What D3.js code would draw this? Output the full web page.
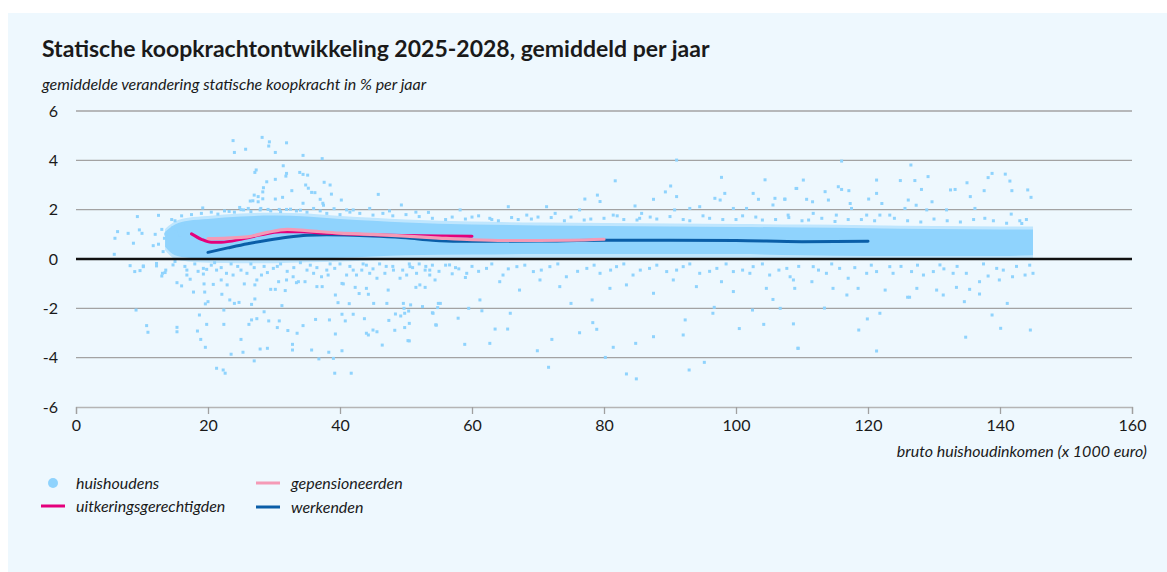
<!DOCTYPE html>
<html>
<head>
<meta charset="utf-8">
<script src="https://cdn.jsdelivr.net/npm/d3@7"></script>
<style>
  body { margin: 0; background: #ffffff; }
  svg { display: block; }
  text { font-family: Lato, "Open Sans", sans-serif; fill: #1a1a1a; }
</style>
</head>
<body>
<div id="chart"></div>
<script>
// x: bruto huishoudinkomen (x 1000 euro), y: % per jaar
const xTicks = [0, 20, 40, 60, 80, 100, 120, 140, 160];
const yTicks = [-6, -4, -2, 0, 2, 4, 6];

// dense cloud of households (envelope of the band)
const bandX = [13.5, 15, 17, 20, 25, 30, 35, 40, 45, 50, 60, 70, 80, 90, 100, 110, 120, 130, 140, 145];
const bandLo = [0.5, 0.15, 0.05, 0.0, -0.02, -0.02, 0.02, 0.05, 0.1, 0.15, 0.18, 0.2, 0.2, 0.2, 0.2, 0.15, 0.12, 0.12, 0.12, 0.15];
const bandHi = [1.1, 1.4, 1.55, 1.62, 1.72, 1.76, 1.72, 1.62, 1.55, 1.48, 1.4, 1.36, 1.34, 1.32, 1.3, 1.28, 1.25, 1.22, 1.2, 1.2];

// individual households outside the band
const householdPoints = [
  [23.8,4.8],[24.0,4.32],[25.7,4.45],[28.2,4.93],[29.3,4.75],[29.2,4.58],[30.2,4.32],[31.9,4.71],[34.4,4.2],[37.3,4.07],
  [31.4,3.78],[27.3,3.61],[27.1,3.51],[33.9,3.51],[34.4,3.43],[35.1,3.4],[31.8,3.36],[28.9,3.13],[30.2,3.23],[37.6,3.11],
  [38.5,3.0],[34.8,3.0],[35.2,2.87],[28.4,2.89],[28.3,2.72],[35.7,2.7],[36.2,2.69],[38.7,2.63],[27.0,2.59],[27.6,2.53],
  [26.4,2.35],[26.8,2.36],[27.6,2.32],[28.3,2.44],[30.2,2.43],[31.3,2.5],[37.0,2.42],[37.4,2.26],[37.5,2.18],[40.2,2.39],
  [34.4,2.26],[19.2,2.07],[12.5,1.77],[23.2,1.93],[24.8,2.09],[25.4,1.99],[26.1,2.05],[27.9,1.99],[29.1,2.01],[30.8,2.01],
  [31.9,2.01],[33.4,1.95],[36.0,2.05],[39.1,2.04],[41.0,1.99],[42.0,1.99],[45.8,2.62],[49.3,2.19],[32.7,2.77],[31.9,3.47],
  [44.5,2.05],[47.5,1.95],[51.5,1.9],[53.4,1.89],
  [15.0,1.55],[16.2,1.41],[14.7,1.28],[15.2,1.09],[13.6,1.01],[13.4,0.84],[15.8,0.96],[6.3,1.11],[5.9,0.84],[7.9,1.04],
  [8.7,0.64],[9.6,1.18],[10.0,1.04],[11.7,0.54],[5.8,0.19],[9.3,1.72],[12.5,0.6],[13.0,1.2],[12.0,1.0],[13.2,0.3],
  [8.2,-0.27],[8.9,-0.51],[9.7,-0.47],[10.2,-0.31],[12.2,-0.18],[13.1,-0.58],[13.6,-0.45],[9.1,-2.07],[10.7,-2.7],[10.9,-2.97],
  [10.2,-0.28],[12.2,-0.28],[13.5,-0.55],[13.0,-0.69],
  [15.3,-0.96],[16.0,-1.09],[17.8,-1.34],[16.8,-0.45],[16.8,-0.65],[17.3,-0.82],[19.4,-1.01],[19.5,-1.34],[19.3,-0.61],[19.8,-0.42],
  [19.6,-1.82],[20.0,-1.73],[18.7,-2.27],[15.3,-2.77],[15.3,-2.95],[18.4,-2.92],[18.9,-3.26],[19.6,-3.58],[19.8,-2.65],[21.3,-4.43],
  [22.3,-4.5],[22.6,-4.63],[23.5,-3.86],[25.0,-3.26],[25.3,-3.78],[26.2,-2.65],[26.6,-2.47],[27.4,-2.42],[22.4,-2.65],[22.4,-2.07],
  [27.0,-4.13],[27.9,-3.65],[29.0,-3.62],[28.5,-2.14],[29.2,-2.51],[30.8,-2.51],[30.5,-2.78],[32.1,-2.9],[33.5,-3.01],[34.4,-2.7],
  [32.8,-3.46],[32.8,-3.69],[35.7,-3.69],[36.3,-2.45],[38.4,-2.47],[36.8,-4.05],[39.0,-4.03],[38.3,-3.78],[39.3,-3.04],[39.2,-4.63],
  [41.7,-4.63],[40.3,-3.72],[40.3,-2.24],[42.0,-2.24],[40.8,-2.51],[43.7,-2.42],[44.0,-3.01],[44.3,-3.08],[45.0,-2.88],[45.6,-2.95],
  [46.4,-3.49],[47.4,-2.49],[48.4,-2.23],[49.2,-2.31],[48.3,-2.89],[49.8,-2.78],[50.5,-3.32],[50.5,-2.61],[50.4,-2.11],[49.7,-2.0],
  [54.0,-2.18],[54.6,-2.68],[54.8,-1.97],
  [22.1,-1.43],[23.3,-1.66],[24.0,-1.8],[24.7,-1.76],[27.1,-1.62],[26.6,-1.84],[31.2,-1.89],[39.3,-1.46],[39.7,-1.77],[41.4,-1.81],
  [42.9,-1.4],[44.3,-1.43],[45.1,-1.8],[47.1,-1.8],[47.3,-1.26],[49.6,-1.8],[50.7,-1.86],[52.5,-1.93],[52.9,-1.15],[51.5,-1.15],
  [54.9,-1.8],[20.8,-1.03],[22.0,-0.85],[22.9,-1.05],[25.5,-1.01],[27.1,-1.05],[29.5,-1.23],[30.2,-1.23],[31.7,-1.28],[33.4,-0.96],
  [36.5,-1.12],[37.3,-1.12],[40.5,-1.01],[42.3,-1.15],[44.0,-1.19],
  [14.7,-0.24],[19.3,-0.38],[21.3,-0.45],[22.8,-0.58],[23.8,-0.65],[25.9,-0.58],[27.4,-0.85],[28.1,-0.65],[29.9,-0.38],[30.7,-0.92],
  [31.9,-0.85],[32.9,-0.72],[33.7,-0.92],[34.7,-0.92],[36.0,-0.58],[37.2,-0.72],[38.2,-0.65],[39.2,-0.38],[40.3,-0.99],[41.0,-0.65],
  [42.5,-0.65],[43.3,-0.45],[44.5,-0.58],[45.6,-0.78],[46.8,-0.58],[48.1,-0.45],[49.1,-0.78],[50.1,-0.65],[51.6,-0.58],[52.9,-0.45],
  [53.6,-0.65],[54.4,-0.85],[18,-0.2],[20.5,-0.25],[24.5,-0.3],[26.5,-0.2],[28.5,-0.3],[31,-0.2],[33,-0.35],[35.5,-0.25],
  [38.5,-0.2],[41.5,-0.3],[44,-0.25],[47,-0.3],[50.5,-0.2],[53,-0.3],[56,-0.25],[58,-0.4],[60,-0.3],[57,-0.6],[59,-0.75],
  [91.0,4.01],[81.7,3.17],[97.8,3.31],[104.4,3.21],[90.1,2.96],[89.3,2.72],[91.0,2.53],[79.0,2.59],[77.1,2.43],[79.4,2.33],
  [87.5,2.42],[84.7,2.15],[85.7,1.85],[96.8,2.46],[98.3,2.66],[97.6,2.39],[102.6,2.66],[103.4,2.42],[105.9,2.46],[107.4,2.42],
  [109.2,2.86],[65.5,2.12],[58.2,1.99],[72.6,1.85],[76.3,1.99],[90.7,1.99],[93.0,2.05],[94.5,2.12],[99.6,2.05],[105.6,2.19],
  [101.6,2.05],[71.3,2.12],[85.4,1.65],[81.4,1.78],[68.3,1.78],[62.7,1.65],
  [71.6,-4.39],[69.9,-3.72],[72.1,-3.26],[80.2,-3.99],[81.4,-3.58],[83.4,-4.66],[84.9,-4.86],[84.8,-3.42],[87.5,-3.15],[92.0,-3.08],
  [92.3,-2.47],[92.9,-4.5],[95.2,-4.19],[100.5,-2.82],[104.2,-2.65],[109.4,-3.62],[76.3,-2.99],[78.3,-2.58],[78.9,-2.85],[78.2,-1.66],
  [75.0,-1.8],[49.8,-2.2],[50.3,-3.31],[54.1,-2.2],[54.5,-2.67],[57.9,-2.4],[58.9,-3.46],[62.7,-3.42],[63.5,-2.84],[65.4,-2.84],
  [65.8,-2.2],[61.5,-2.1],[55.2,-1.8],[59.5,-2.0],[96.5,-2.2],[96.7,-1.96],[102.5,-2.07],[106.7,-2.0],[97.8,-0.92],[104.6,-1.19],
  [105.6,-1.64],[99.6,-1.32],[87.5,-1.39],[83.4,-1.05],[80.9,-1.19],[73.3,-1.12],[70.3,-0.85],[67.2,-1.26],[64.2,-0.92],[61.2,-1.66],
  [52.1,-1.05],[94.0,-1.12],[90.5,-0.85],[102.1,-0.58],[108.7,-0.85],
  [50.6,-0.31],[53.6,-0.45],[56.6,-0.24],[59.2,-0.58],[62.2,-0.38],[64.7,-0.65],[66.8,-0.31],[69.3,-0.51],[71.8,-0.31],[74.3,-0.72],
  [77.4,-0.38],[79.4,-0.58],[81.9,-0.31],[84.4,-0.65],[86.9,-0.38],[89.5,-0.51],[92.0,-0.31],[94.5,-0.58],[97.1,-0.38],[99.6,-0.51],
  [102.6,-0.31],[105.1,-0.65],[107.7,-0.38],
  [116.0,3.97],[126.5,3.81],[138.8,3.47],[138.2,3.3],[140.8,3.44],[141.5,3.16],[110.2,3.2],[121.3,3.2],[124.9,3.18],[127.1,3.18],
  [129.1,3.34],[135.0,3.09],[132.5,2.8],[133.2,2.82],[109.1,2.86],[113.5,2.73],[115.5,2.93],[116.0,2.82],[117.1,2.77],[120.1,2.43],
  [121.3,2.66],[128.1,2.82],[129.7,2.32],[135.5,2.53],[137.6,2.77],[141.8,2.77],[144.2,2.8],[144.7,2.5],[107.4,2.43],[110.7,2.42],
  [111.6,2.32],[114.0,2.39],[117.3,2.25],[122.1,2.25],[126.1,2.39],[127.3,2.18],[107.9,1.78],[111.7,1.85],[115.2,1.78],[117.5,2.05],
  [119.8,1.78],[121.8,1.78],[123.3,1.78],[125.6,2.05],[128.9,1.99],[131.9,1.99],[136.2,2.05],[137.7,1.65],[141.7,1.82],[143.3,1.44],
  [108.7,-2.63],[109.4,-3.62],[113.4,-1.99],[118.6,-2.88],[119.9,-2.43],[121.3,-3.73],[121.8,-2.2],[134.8,-3.17],[134.6,-1.73],[126.0,-1.55],
  [126.3,-1.55],[131.4,-1.46],[136.9,-1.42],[138.8,-2.27],[140.1,-2.81],[141.1,-1.8],[144.6,-2.88],[108.9,-1.19],[114.7,-1.19],[116.8,-1.46],
  [118.5,-1.19],[122.6,-1.26],[127.4,-1.19],[130.4,-1.26],[133.4,-1.15],[135.4,-1.23],[108.2,-0.72],[111.5,-0.92],[113.7,-0.58],[117.0,-0.78],
  [119.8,-0.58],[121.3,-0.51],[123.8,-0.58],[126.6,-0.51],[128.4,-0.65],[129.9,-0.51],[132.9,-0.58],[134.9,-0.58],[136.9,-0.92],[138.2,-0.69],
  [139.9,-0.85],[141.9,-0.72],[143.8,-0.65],[145.0,-0.58],[111.7,-0.31],[115.7,-0.38],[123.3,-0.31],[130.9,-0.24],[139.5,-0.38],
  [56,1.6],[60,1.7],[64,1.55],[67,1.6],[70,1.7],[74,1.55],[78,1.62],[83,1.6],[87,1.7],[92,1.6],
  [95,1.75],[98,1.6],[103,1.7],[106,1.6],[110,1.55],[113,1.65],[119,1.6],[126,1.55],[130,1.62],[134,1.5],[139,1.55],[144,1.6],
  // ragged fringe just above the band
  [14.5,1.6],[16,1.75],[17.5,1.8],[19,1.85],[20.5,1.9],[21.5,1.82],[22.5,1.95],[24,1.9],[25,2.0],[26.5,1.92],
  [28,2.05],[29.5,1.95],[31,1.92],[32.5,2.02],[34,1.98],[35,1.9],[37,1.95],[38,1.85],[40,1.8],[41.5,1.9],
  [43,1.85],[45,1.78],[46.5,1.85],[48,1.75],[50,1.8],[52,1.72],[54,1.65],[57,1.7],[59,1.62],[61,1.75],
  [63,1.6],[66,1.68],[69,1.62],[72,1.68],[75,1.7],[77,1.58],[80,1.65],[82,1.75],[85,1.58],[88,1.62],
  [90,1.72],[93,1.55],[96,1.65],[100,1.6],[101,1.75],[104,1.58],[108,1.68],[111,1.58],[115,1.52],[117,1.6],
  [121,1.55],[124,1.65],[128,1.5],[132,1.55],[136,1.6],[141,1.45],[143,1.55],
  // ragged fringe just below the band
  [15,-0.1],[16.5,-0.3],[18.5,-0.5],[21,-0.15],[22,-0.35],[23.5,-0.2],[25,-0.45],[27,-0.35],[29,-0.55],[30.5,-0.3],
  [32,-0.5],[34,-0.15],[35,-0.45],[36.5,-0.35],[38,-0.45],[40,-0.2],[42,-0.45],[43.5,-0.2],[45,-0.4],[46,-0.2],
  [48,-0.3],[49.5,-0.45],[51,-0.35],[52,-0.2],[54,-0.25],[55,-0.5],[57.5,-0.35],[61,-0.5],[63,-0.2],[65.5,-0.4],
  [68,-0.25],[70.5,-0.45],[73,-0.2],[76,-0.5],[78.5,-0.25],[81,-0.45],[83,-0.2],[85.5,-0.45],[88,-0.25],[91,-0.45],
  [93,-0.2],[96,-0.5],[98.5,-0.2],[101,-0.45],[104,-0.2],[106.5,-0.45],[109.5,-0.3],[112.5,-0.45],[114.5,-0.2],[118,-0.35],
  [120.5,-0.25],[125,-0.3],[127.5,-0.25],[131.5,-0.4],[133.5,-0.3],[137.5,-0.2],[140.5,-0.45],[142.5,-0.3],[144.5,-0.25]
];

// smoothed lines per group
const uitkeringX = [17.5, 19, 20.5, 22, 25, 28, 31, 34, 38, 42, 46, 50, 55, 60];
const uitkeringY = [1.02, 0.8, 0.68, 0.68, 0.8, 0.98, 1.1, 1.1, 1.04, 1.0, 0.97, 0.95, 0.93, 0.92];
const pensioenX = [20, 23, 26, 29, 32, 35, 40, 45, 50, 55, 60, 65, 70, 75, 80];
const pensioenY = [0.83, 0.85, 0.9, 1.08, 1.2, 1.15, 1.05, 1.0, 0.93, 0.85, 0.78, 0.75, 0.75, 0.76, 0.8];
const werkendX = [20, 23, 26, 29, 32, 35, 38, 42, 46, 50, 54, 58, 62, 70, 80, 90, 100, 110, 120];
const werkendY = [0.27, 0.45, 0.62, 0.76, 0.88, 0.96, 0.98, 0.96, 0.92, 0.86, 0.76, 0.72, 0.72, 0.73, 0.76, 0.76, 0.75, 0.7, 0.72];

const title = 'Statische koopkrachtontwikkeling 2025-2028, gemiddeld per jaar';
const subtitle = 'gemiddelde verandering statische koopkracht in % per jaar';
const xTitle = 'bruto huishoudinkomen (x 1000 euro)';

const colors = {
  dots: '#8fd3fd',
  uitkering: '#e4007c',
  pensioen: '#f59ab6',
  werkend: '#0a5ea8',
};

const width = 1167;
const height = 572;
const margin = { top: 111, right: 35, bottom: 165, left: 76 };
const innerW = width - margin.left - margin.right;
const innerH = height - margin.top - margin.bottom;

const svg = d3.select('#chart').append('svg')
  .attr('width', width)
  .attr('height', height);

// panel background
svg.append('rect')
  .attr('x', 8).attr('y', 13)
  .attr('width', width - 8).attr('height', height - 13)
  .attr('fill', '#eef8fe');

svg.append('text')
  .attr('x', 42).attr('y', 57)
  .attr('font-size', 23).attr('font-weight', 700)
  .text(title);

svg.append('text')
  .attr('x', 42).attr('y', 90)
  .attr('font-size', 16).attr('font-style', 'italic')
  .text(subtitle);

const g = svg.append('g')
  .attr('transform', `translate(${margin.left},${margin.top})`);

const x = d3.scaleLinear().domain([0, 160]).range([0, innerW]);
const y = d3.scaleLinear().domain([-6, 6]).range([innerH, 0]);

// gridlines
g.append('g')
  .selectAll('line')
  .data(yTicks.filter((d) => d !== -6 && d !== 0))
  .join('line')
  .attr('x1', 0).attr('x2', innerW)
  .attr('y1', (d) => y(d)).attr('y2', (d) => y(d))
  .attr('stroke', '#a3a3a3').attr('stroke-width', 1.3);

// y labels (plain hyphen for negatives, as in the source)
const yAxis = d3.axisLeft(y).tickValues(yTicks).tickSize(0).tickPadding(18)
  .tickFormat((d) => String(d));
g.append('g')
  .call(yAxis)
  .call((a) => a.select('.domain').remove())
  .call((a) => a.selectAll('text')
    .attr('font-size', 16).attr('fill', '#1a1a1a')
    .style('font-family', 'Lato, sans-serif'));

// x axis
const xAxis = d3.axisBottom(x).tickValues(xTicks).tickSize(7).tickPadding(6)
  .tickFormat((d) => String(d));
g.append('g')
  .attr('transform', `translate(0,${innerH})`)
  .call(xAxis)
  .call((a) => a.select('.domain').attr('stroke', '#b5b5b5').attr('stroke-width', 1.3))
  .call((a) => a.selectAll('.tick line').attr('stroke', '#a0a0a0').attr('stroke-width', 1.3))
  .call((a) => a.selectAll('text')
    .attr('font-size', 16).attr('fill', '#1a1a1a')
    .style('font-family', 'Lato, sans-serif'));

svg.append('text')
  .attr('x', 1147).attr('y', 457)
  .attr('text-anchor', 'end')
  .attr('font-size', 16).attr('font-style', 'italic')
  .text(xTitle);

// band of households
const band = bandX.map((v, i) => ({ x: v, lo: bandLo[i], hi: bandHi[i] }));
const bandArea = d3.area()
  .x((d) => x(d.x))
  .y0((d) => y(d.lo))
  .y1((d) => y(d.hi))
  .curve(d3.curveMonotoneX);

// softer outer fringe
g.append('path')
  .datum(band)
  .attr('d', d3.area()
    .x((d) => x(d.x))
    .y0((d) => y(d.lo - 0.15))
    .y1((d) => y(d.hi + 0.12))
    .curve(d3.curveMonotoneX))
  .attr('fill', colors.dots)
  .attr('opacity', 0.5);

g.append('path')
  .datum(band)
  .attr('d', bandArea)
  .attr('fill', colors.dots);

g.append('g')
  .selectAll('rect')
  .data(householdPoints)
  .join('rect')
  .attr('x', (d) => x(d[0]) - 1.5)
  .attr('y', (d) => y(d[1]) - 1.5)
  .attr('width', 3)
  .attr('height', 3)
  .attr('fill', colors.dots);

// zero line
g.append('line')
  .attr('x1', 0).attr('x2', innerW)
  .attr('y1', y(0)).attr('y2', y(0))
  .attr('stroke', '#111').attr('stroke-width', 2.5);

// group lines
const line = d3.line()
  .x((d) => x(d[0]))
  .y((d) => y(d[1]))
  .curve(d3.curveMonotoneX);

const series = [
  { xs: werkendX, ys: werkendY, color: colors.werkend, w: 3 },
  { xs: uitkeringX, ys: uitkeringY, color: colors.uitkering, w: 3 },
  { xs: pensioenX, ys: pensioenY, color: colors.pensioen, w: 3.2 },
];

g.append('g')
  .selectAll('path')
  .data(series)
  .join('path')
  .attr('d', (s) => line(s.xs.map((v, i) => [v, s.ys[i]])))
  .attr('fill', 'none')
  .attr('stroke', (s) => s.color)
  .attr('stroke-width', (s) => s.w)
  .attr('stroke-linecap', 'round');

// legend
const legend = svg.append('g');
legend.append('circle')
  .attr('cx', 53).attr('cy', 483).attr('r', 5)
  .attr('fill', colors.dots);

const legendItems = [
  { label: 'huishoudens', lx: 76, ly: 483, line: null },
  { label: 'uitkeringsgerechtigden', lx: 76, ly: 506, line: colors.uitkering, x0: 41 },
  { label: 'gepensioneerden', lx: 291, ly: 483, line: colors.pensioen, x0: 256 },
  { label: 'werkenden', lx: 291, ly: 507, line: colors.werkend, x0: 256 },
];

legendItems.forEach((d) => {
  if (d.line) {
    legend.append('line')
      .attr('x1', d.x0).attr('x2', d.x0 + 24)
      .attr('y1', d.ly).attr('y2', d.ly)
      .attr('stroke', d.line).attr('stroke-width', 3);
  }
  legend.append('text')
    .attr('x', d.lx).attr('y', d.ly)
    .attr('dy', '0.35em')
    .attr('font-size', 16).attr('font-style', 'italic')
    .text(d.label);
});
</script>
</body>
</html>
